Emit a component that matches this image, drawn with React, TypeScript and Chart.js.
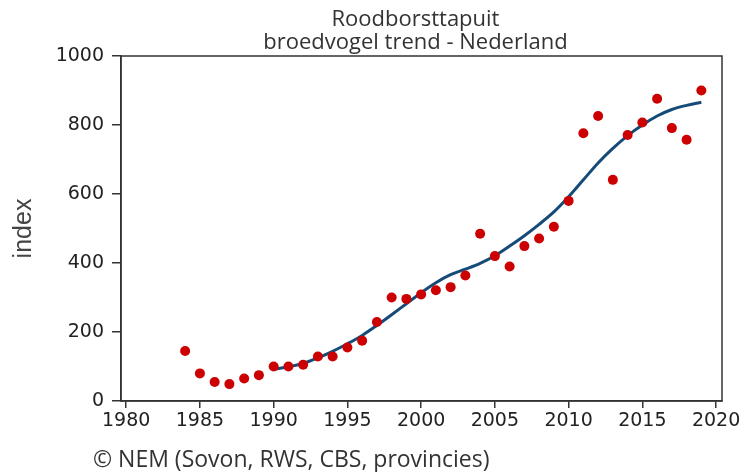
import { useEffect, useRef } from 'react';
import { Chart, registerables } from 'chart.js';

Chart.register(...registerables);

const titleLines = ['Roodborsttapuit', 'broedvogel trend - Nederland'];
const footerText = '© NEM (Sovon, RWS, CBS, provincies)';
const yAxisLabel = 'index';

const xTicks = [1980, 1985, 1990, 1995, 2000, 2005, 2010, 2015, 2020];
const yTicks = [0, 200, 400, 600, 800, 1000];

const countYears = [
  1984, 1985, 1986, 1987, 1988, 1989, 1990, 1991, 1992, 1993, 1994, 1995,
  1996, 1997, 1998, 1999, 2000, 2001, 2002, 2003, 2004, 2005, 2006, 2007,
  2008, 2009, 2010, 2011, 2012, 2013, 2014, 2015, 2016, 2017, 2018, 2019,
];
const countValues = [
  145, 80, 55, 49, 65, 75, 100, 100, 105, 129, 129, 155,
  175, 229, 300, 296, 309, 321, 330, 364, 485, 420, 390, 449,
  471, 505, 580, 776, 826, 641, 771, 807, 876, 791, 757, 900,
];

const trendYears = [
  1990, 1991, 1992, 1993, 1994, 1995, 1996, 1997, 1998, 1999, 2000, 2001,
  2002, 2003, 2004, 2005, 2006, 2007, 2008, 2009, 2010, 2011, 2012, 2013,
  2014, 2015, 2016, 2017, 2018, 2019,
];
const trendValues = [
  92, 99, 109, 125, 144, 166, 190, 219, 250, 282, 314, 343,
  366, 382, 399, 421, 449, 479, 512, 548, 592, 641, 690, 732,
  769, 800, 826, 845, 857, 866,
];

const frameAndText = {
  id: 'frameAndText',
  afterDraw(chart: any) {
    const { ctx, chartArea } = chart;
    ctx.save();
    ctx.strokeStyle = '#333333';
    ctx.lineWidth = 1.5;
    ctx.strokeRect(
      chartArea.left,
      chartArea.top,
      chartArea.right - chartArea.left,
      chartArea.bottom - chartArea.top
    );
    ctx.fillStyle = '#333333';
    ctx.font = '22px "Open Sans"';
    ctx.textAlign = 'center';
    ctx.textBaseline = 'alphabetic';
    const cx = (chartArea.left + chartArea.right) / 2 - 6;
    ctx.fillText(titleLines[0], cx, 26);
    ctx.fillText(titleLines[1], cx, 49);
    ctx.textAlign = 'left';
    ctx.font = '23px "Open Sans"';
    ctx.fillText(footerText, 93, 467);
    ctx.restore();
  },
};

export default function App() {
  const canvasRef = useRef<HTMLCanvasElement | null>(null);

  useEffect(() => {
    document.body.style.margin = '0';
    const canvas = canvasRef.current;
    if (!canvas) return;
    const axisColor = '#333333';
    const tickFont = { family: '"DejaVu Sans"', size: 19 };
    const chart = new Chart(canvas, {
      type: 'scatter',
      data: {
        datasets: [
          {
            type: 'scatter',
            label: 'telling',
            data: countYears.map((x, i) => ({ x, y: countValues[i] })),
            backgroundColor: '#cc0000',
            borderWidth: 0,
            pointRadius: 5,
            pointHoverRadius: 5,
            order: 0,
          },
          {
            type: 'line',
            label: 'trend',
            data: trendYears.map((x, i) => ({ x, y: trendValues[i] })),
            borderColor: '#164b78',
            borderWidth: 3,
            pointRadius: 0,
            fill: false,
            cubicInterpolationMode: 'monotone',
            order: 1,
          },
        ],
      },
      options: {
        responsive: false,
        animation: false,
        layout: { padding: { top: 56, right: 28, bottom: 40, left: 0 } },
        plugins: {
          legend: { display: false },
          tooltip: { enabled: false },
          title: { display: false },
        },
        scales: {
          x: {
            type: 'linear',
            min: 1979.65,
            max: 2020.4,
            afterBuildTicks: (axis: any) => {
              axis.ticks = xTicks.map((v) => ({ value: v }));
            },
            afterFit: (scale: any) => {
              scale.height = 31;
            },
            ticks: {
              color: '#222222',
              font: tickFont,
              padding: 2,
              maxRotation: 0,
              autoSkip: false,
              callback: (v: any) => String(v),
            },
            grid: {
              display: true,
              drawOnChartArea: false,
              drawTicks: true,
              tickLength: 7,
              color: axisColor,
              lineWidth: 1.5,
            },
            border: { display: true, color: axisColor, width: 1.5 },
          },
          y: {
            type: 'linear',
            min: 0,
            max: 1000,
            afterBuildTicks: (axis: any) => {
              axis.ticks = yTicks.map((v) => ({ value: v }));
            },
            afterFit: (scale: any) => {
              scale.width = 121;
            },
            ticks: {
              color: '#222222',
              font: tickFont,
              padding: 8,
              autoSkip: false,
              callback: (v: any) => String(v),
            },
            grid: {
              display: true,
              drawOnChartArea: false,
              drawTicks: true,
              tickLength: 9,
              color: axisColor,
              lineWidth: 1.5,
            },
            border: { display: true, color: axisColor, width: 1.5 },
            title: {
              display: true,
              text: yAxisLabel,
              color: '#444444',
              font: { family: '"Liberation Sans"', size: 25 },
              padding: { top: 9, bottom: 0 },
            },
          },
        },
      },
      plugins: [frameAndText],
    });
    return () => chart.destroy();
  }, []);

  return <canvas ref={canvasRef} width={750} height={472} />;
}
